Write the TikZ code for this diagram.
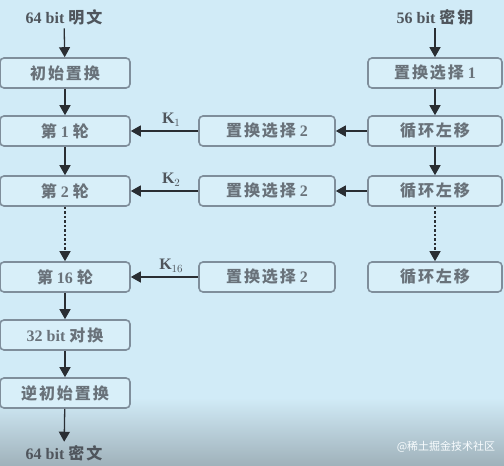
\documentclass[tikz,border=0pt]{standalone}
\usepackage{fontspec}
\setmainfont{Liberation Serif}
\newfontfamily\cjk[LetterSpace=12]{Noto Sans CJK SC}
\newfontfamily\cjkwm{Noto Sans CJK SC}
\usetikzlibrary{arrows.meta}
\definecolor{bgblue}{HTML}{D1EBF7}
\definecolor{bgdark}{HTML}{9FB1BA}
\definecolor{boxfill}{HTML}{D8EFF9}
\definecolor{boxline}{HTML}{7F8E9B}
\definecolor{txt}{HTML}{69727A}
\definecolor{arr}{HTML}{2A2E33}
\tikzset{
  stepbox/.style={draw=boxline, line width=1.6pt, fill=boxfill, rounded corners=4pt,
    minimum height=30pt, inner sep=0pt, text=txt, font=\bfseries\fontsize{16}{18}\selectfont},
  lbox/.style={stepbox, minimum width=130pt},
  mbox/.style={stepbox, minimum width=136pt},
  rbox/.style={stepbox, minimum width=134pt},
  lab/.style={text=txt!75!black, font=\bfseries\fontsize{16}{18}\selectfont},
  flow/.style={draw=arr, line width=1.3pt, -{Triangle[width=11pt,length=10pt]}},
  dflow/.style={flow, dash pattern=on 2.5pt off 2pt},
}
\begin{document}
\begin{tikzpicture}[x=1pt,y=-1pt]
\useasboundingbox (0,0) rectangle (504,466);
\fill[bgblue] (0,0) rectangle (504,466);
\shade[top color=bgblue, bottom color=bgdark] (0,398) rectangle (504,466);

% left column
\node[lab] (pt) at (64,17) {64 bit {\cjk 明文}};
\node[lbox] (ip) at (65,73) {{\cjk 初始置换}};
\node[lbox] (r1) at (65,131) {{\cjk 第} 1 {\cjk 轮}};
\node[lbox] (r2) at (65,191) {{\cjk 第} 2 {\cjk 轮}};
\node[lbox] (r16) at (65,277) {{\cjk 第} 16 {\cjk 轮}};
\node[lbox] (sw) at (65,335) {32 bit {\cjk 对换}};
\node[lbox] (iip) at (65,393) {{\cjk 逆初始置换}};
\node[lab] (ct) at (64,453) {64 bit {\cjk 密文}};

% right column
\node[lab] (key) at (435,17) {56 bit {\cjk 密钥}};
\node[rbox] (pc1) at (435,73) {{\cjk 置换选择} 1};
\node[rbox] (ls1) at (435,131) {{\cjk 循环左移}};
\node[rbox] (ls2) at (435,191) {{\cjk 循环左移}};
\node[rbox] (ls16) at (435,277) {{\cjk 循环左移}};

% middle column
\node[mbox] (pc2a) at (267,131) {{\cjk 置换选择} 2};
\node[mbox] (pc2b) at (267,191) {{\cjk 置换选择} 2};
\node[mbox] (pc2c) at (267,277) {{\cjk 置换选择} 2};

% vertical flows
\draw[flow] (pt) -- (ip);
\draw[flow] (ip) -- (r1);
\draw[flow] (r1) -- (r2);
\draw[dflow] (r2) -- (r16);
\draw[flow] (r16) -- (sw);
\draw[flow] (sw) -- (iip);
\draw[flow] (iip) -- (ct);
\draw[flow] (key) -- (pc1);
\draw[flow] (pc1) -- (ls1);
\draw[flow] (ls1) -- (ls2);
\draw[dflow] (ls2) -- (ls16);

% horizontal flows
\draw[flow] (ls1) -- (pc2a);
\draw[flow] (ls2) -- (pc2b);
\draw[flow] (pc2a) -- node[lab, above=1pt, pos=0.4] {K$_1$} (r1);
\draw[flow] (pc2b) -- node[lab, above=1pt, pos=0.4] {K$_2$} (r2);
\draw[flow] (pc2c) -- node[lab, above=1pt, pos=0.4] {K$_{16}$} (r16);

\node[text=white!85!bgblue, font=\cjkwm\fontsize{11}{13}\selectfont] (wm) at (446,447) {@稀土掘金技术社区};
\end{tikzpicture}
\end{document}
